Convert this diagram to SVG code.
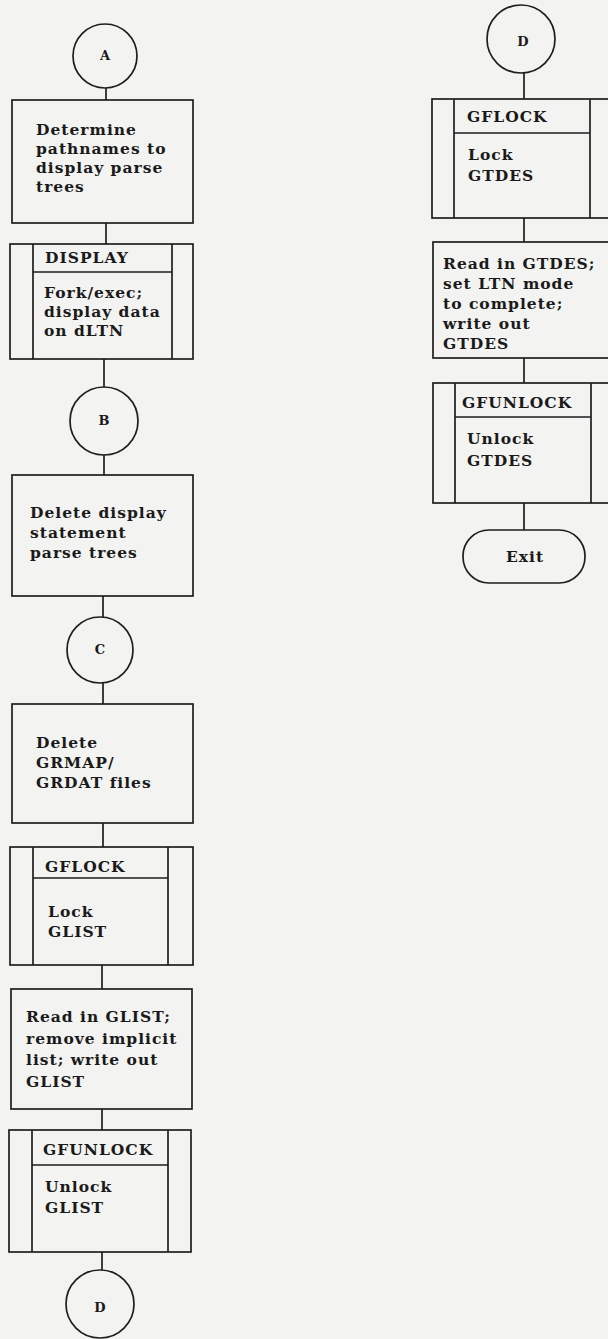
<svg xmlns="http://www.w3.org/2000/svg" width="608" height="1339" viewBox="0 0 608 1339">
<style>
.bg{fill:#f3f3f1}
.s{fill:none;stroke:#1e1e1e;stroke-width:1.7}
.c{stroke:#1e1e1e;stroke-width:1.7}
text{font-family:"DejaVu Serif","Liberation Serif",serif;font-weight:bold;font-size:15.5px;letter-spacing:1px;fill:#1a1a1a}
.l{font-size:13px;letter-spacing:0;text-anchor:middle}
</style>
<rect class="bg" x="0" y="0" width="608" height="1339"/>
<g id="connectors">
<line class="c" x1="106" y1="88" x2="106" y2="100"/>
<line class="c" x1="106" y1="223" x2="106" y2="244"/>
<line class="c" x1="104" y1="359" x2="104" y2="387"/>
<line class="c" x1="104" y1="455" x2="104" y2="475"/>
<line class="c" x1="103" y1="596" x2="103" y2="617"/>
<line class="c" x1="103" y1="683" x2="103" y2="704"/>
<line class="c" x1="103" y1="823" x2="103" y2="847"/>
<line class="c" x1="102" y1="965" x2="102" y2="989"/>
<line class="c" x1="102" y1="1109" x2="102" y2="1130"/>
<line class="c" x1="102" y1="1252" x2="102" y2="1270"/>
<line class="c" x1="524" y1="73" x2="524" y2="99"/>
<line class="c" x1="524" y1="218" x2="524" y2="242"/>
<line class="c" x1="524" y1="358" x2="524" y2="383"/>
<line class="c" x1="524" y1="503" x2="524" y2="530"/>
</g>
<g id="nodeA">
<circle class="s" cx="105" cy="56" r="32"/>
<text class="l" x="105" y="60">A</text>
</g>
<g id="box1">
<rect class="s" x="12" y="100" width="181" height="123"/>
<text x="36" y="135">Determine</text>
<text x="36" y="154">pathnames to</text>
<text x="36" y="173">display parse</text>
<text x="36" y="192">trees</text>
</g>
<g id="display">
<rect class="s" x="10" y="244" width="183" height="115"/>
<line class="c" x1="33" y1="244" x2="33" y2="359"/>
<line class="c" x1="172" y1="244" x2="172" y2="359"/>
<line class="c" x1="33" y1="272" x2="172" y2="272"/>
<text x="45" y="263">DISPLAY</text>
<text x="44" y="298">Fork/exec;</text>
<text x="44" y="317">display data</text>
<text x="44" y="336">on dLTN</text>
</g>
<g id="nodeB">
<circle class="s" cx="104" cy="421" r="34"/>
<text class="l" x="104" y="425">B</text>
</g>
<g id="box3">
<rect class="s" x="12" y="475" width="181" height="121"/>
<text x="30" y="518">Delete display</text>
<text x="30" y="538">statement</text>
<text x="30" y="558">parse trees</text>
</g>
<g id="nodeC">
<circle class="s" cx="100" cy="650" r="33"/>
<text class="l" x="100" y="654">C</text>
</g>
<g id="box4">
<rect class="s" x="12" y="704" width="181" height="119"/>
<text x="36" y="748">Delete</text>
<text x="36" y="768">GRMAP/</text>
<text x="36" y="788">GRDAT files</text>
</g>
<g id="gflock1">
<rect class="s" x="10" y="847" width="183" height="118"/>
<line class="c" x1="33" y1="847" x2="33" y2="965"/>
<line class="c" x1="168" y1="847" x2="168" y2="965"/>
<line class="c" x1="33" y1="878" x2="168" y2="878"/>
<text x="45" y="872">GFLOCK</text>
<text x="48" y="917">Lock</text>
<text x="48" y="937">GLIST</text>
</g>
<g id="box6">
<rect class="s" x="11" y="989" width="181" height="120"/>
<text x="26" y="1022">Read in GLIST;</text>
<text x="26" y="1044">remove implicit</text>
<text x="26" y="1065">list; write out</text>
<text x="26" y="1087">GLIST</text>
</g>
<g id="gfunlock1">
<rect class="s" x="9" y="1130" width="182" height="122"/>
<line class="c" x1="32" y1="1130" x2="32" y2="1252"/>
<line class="c" x1="168" y1="1130" x2="168" y2="1252"/>
<line class="c" x1="32" y1="1165" x2="168" y2="1165"/>
<text x="43" y="1155">GFUNLOCK</text>
<text x="45" y="1192">Unlock</text>
<text x="45" y="1213">GLIST</text>
</g>
<g id="nodeD1">
<circle class="s" cx="100" cy="1304" r="34"/>
<text class="l" x="100" y="1312">D</text>
</g>
<g id="nodeD2">
<circle class="s" cx="521" cy="39" r="34"/>
<text class="l" x="523" y="46">D</text>
</g>
<g id="gflock2">
<rect class="s" x="432" y="99" width="190" height="119"/>
<line class="c" x1="454" y1="99" x2="454" y2="218"/>
<line class="c" x1="590" y1="99" x2="590" y2="218"/>
<line class="c" x1="454" y1="133" x2="590" y2="133"/>
<text x="467" y="122">GFLOCK</text>
<text x="468" y="160">Lock</text>
<text x="468" y="181">GTDES</text>
</g>
<g id="box9">
<rect class="s" x="433" y="242" width="190" height="116"/>
<text x="443" y="269">Read in GTDES;</text>
<text x="443" y="289">set LTN mode</text>
<text x="443" y="309">to complete;</text>
<text x="443" y="329">write out</text>
<text x="443" y="349">GTDES</text>
</g>
<g id="gfunlock2">
<rect class="s" x="433" y="383" width="190" height="120"/>
<line class="c" x1="455" y1="383" x2="455" y2="503"/>
<line class="c" x1="591" y1="383" x2="591" y2="503"/>
<line class="c" x1="455" y1="417" x2="591" y2="417"/>
<text x="462" y="408">GFUNLOCK</text>
<text x="467" y="444">Unlock</text>
<text x="467" y="466">GTDES</text>
</g>
<g id="exit">
<rect class="s" x="463" y="530" width="122" height="53" rx="26" ry="26"/>
<text x="525" y="562" style="text-anchor:middle">Exit</text>
</g>
</svg>
